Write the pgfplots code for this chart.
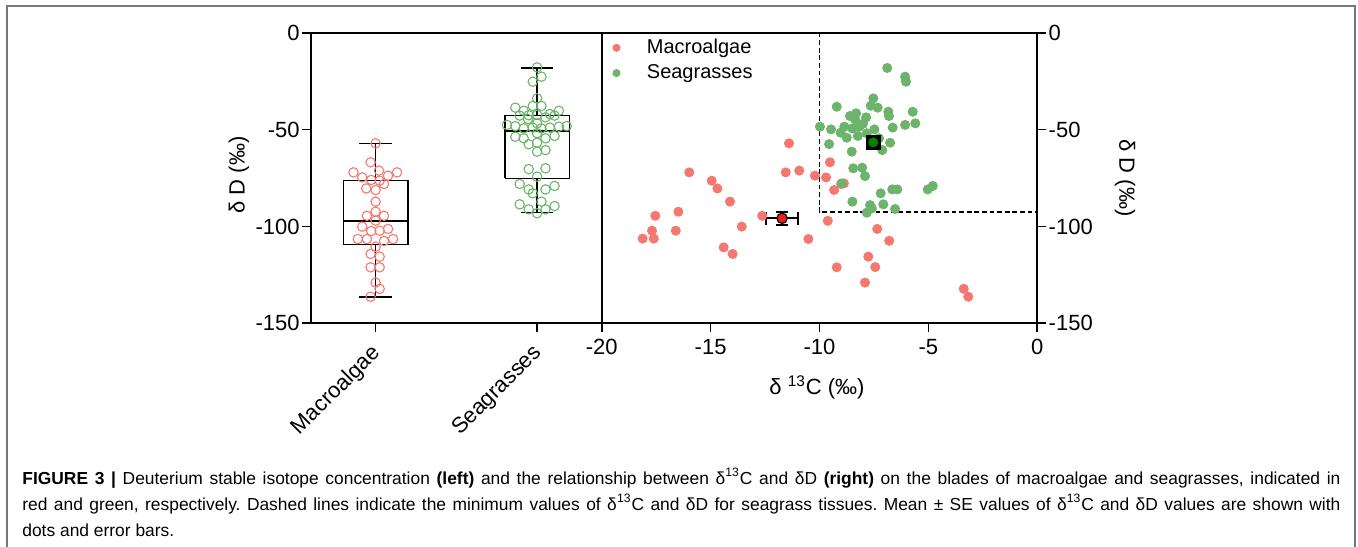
\documentclass[border=0pt]{standalone}
\usepackage{fontspec}
\setmainfont{Liberation Sans}
\usepackage{pgfplots}
\pgfplotsset{compat=1.18}
\definecolor{mred}{RGB}{245,120,112}
\definecolor{sgreen}{RGB}{108,180,108}
\definecolor{meanred}{RGB}{240,30,20}
\definecolor{meangreen}{RGB}{0,130,0}
\definecolor{framegray}{RGB}{120,120,120}
\frenchspacing
\begin{document}
\begin{tikzpicture}
\path[use as bounding box] (0,0) rectangle (679pt,273pt);
\draw[framegray, line width=0.75pt] (3.5pt,-2pt) -- (3.5pt,270pt) -- (677.5pt,270pt) -- (677.5pt,-2pt);
\pgfplotsset{
  common/.style={
    scale only axis,
    height=145.3pt,
    ymin=-150, ymax=0,
    ytick={-150,-100,-50,0},
    axis line style={line width=0.85pt},
    tick style={line width=0.85pt, black},
    major tick length=4.5pt,
    tick align=outside,
    tick label style={font=\fontsize{11}{13}\selectfont},
    /pgf/number format/assume math mode=true,
    clip=false,
  },
  boxline/.style={black, line width=0.75pt, forget plot},
}
% left: box plots
\begin{axis}[common,
  at={(155.5pt,111.35pt)}, anchor=south west,
  width=145.35pt,
  xmin=0.6, xmax=2.4,
  xtick={1,2}, xticklabels={Macroalgae,Seagrasses},
  xtick pos=bottom, ytick pos=left,
  xticklabel style={rotate=45, anchor=north east, inner sep=1pt, xshift=-4.5pt, yshift=-0.5pt},
  yticklabel style={inner sep=1pt},
]
\addplot[only marks, mark=o, mark size=2.35pt, color=mred, mark options={draw=mred, line width=0.55pt}] coordinates {
(1.000,-57.1) (0.969,-66.9) (1.021,-71.2) (0.863,-72.1) (1.133,-72.1)
(0.917,-74.7) (1.077,-73.8) (0.973,-76.0) (1.025,-76.4) (1.052,-78.1)
(0.942,-80.4) (1.000,-81.2) (1.000,-87.2) (0.946,-94.5) (1.000,-92.4)
(1.052,-94.5) (1.000,-97.0) (0.917,-100.1) (0.973,-102.4) (1.025,-102.2)
(1.077,-101.3) (0.890,-106.5) (0.946,-106.5) (1.052,-107.5) (1.108,-106.5)
(1.000,-110.5) (0.969,-114.2) (1.025,-115.6) (0.969,-121.1) (1.025,-121.1)
(1.000,-129.0) (1.025,-132.2) (0.969,-136.3)
};
\addplot[only marks, mark=o, mark size=2.35pt, color=sgreen, mark options={draw=sgreen, line width=0.55pt}] coordinates {
(2.000,-17.9) (1.973,-25.3) (2.027,-22.7) (2.000,-33.9) (1.973,-37.8)
(2.027,-37.8) (1.865,-38.7) (1.917,-40.3) (2.079,-42.0) (2.135,-40.3)
(1.892,-42.8) (1.948,-42.6) (2.052,-43.7) (2.108,-42.8) (2.000,-42.4)
(1.813,-47.6) (1.865,-48.2) (1.917,-49.4) (1.973,-49.0) (2.027,-49.4)
(2.079,-49.0) (2.135,-48.5) (2.183,-48.2) (2.000,-46.8) (1.944,-44.6)
(2.000,-51.9) (1.865,-53.7) (1.917,-54.5) (2.052,-54.5) (2.108,-53.3)
(1.948,-57.6) (2.000,-56.8) (2.000,-61.4) (2.052,-60.6) (1.948,-70.4)
(2.052,-70.0) (2.000,-74.3) (1.892,-78.1) (2.108,-79.1) (1.948,-80.9)
(2.052,-80.9) (1.973,-82.9) (2.027,-87.2) (1.892,-88.6) (2.108,-89.5)
(1.948,-91.2) (2.052,-91.2) (2.000,-93.2)
};
% Macroalgae box: whiskers -136.3/-57.1, quartiles -109.3/-76.4, median -97.2
\addplot[boxline] coordinates {(0.8,-109.3) (1.2,-109.3) (1.2,-76.4) (0.8,-76.4) (0.8,-109.3)};
\addplot[boxline] coordinates {(0.8,-97.2) (1.2,-97.2)};
\addplot[boxline] coordinates {(1,-76.4) (1,-57.1)};
\addplot[boxline] coordinates {(1,-109.3) (1,-136.3)};
\addplot[boxline] coordinates {(0.9,-57.1) (1.1,-57.1)};
\addplot[boxline] coordinates {(0.9,-136.3) (1.1,-136.3)};
% Seagrasses box: whiskers -92.8/-18.3, quartiles -75.2/-42.8, median -50.7
\addplot[boxline] coordinates {(1.8,-75.2) (2.2,-75.2) (2.2,-42.8) (1.8,-42.8) (1.8,-75.2)};
\addplot[boxline] coordinates {(1.8,-50.7) (2.2,-50.7)};
\addplot[boxline] coordinates {(2,-42.8) (2,-18.3)};
\addplot[boxline] coordinates {(2,-75.2) (2,-92.8)};
\addplot[boxline] coordinates {(1.9,-18.3) (2.1,-18.3)};
\addplot[boxline] coordinates {(1.9,-92.8) (2.1,-92.8)};
\end{axis}
% right: scatter
\begin{axis}[common,
  at={(300.85pt,111.35pt)}, anchor=south west,
  width=217.8pt,
  xmin=-20, xmax=0,
  xtick={-20,-15,-10,-5,0},
  xtick pos=bottom, ytick pos=right, yticklabel pos=right,
  yticklabel style={inner sep=1pt},
  legend style={at={(0,1)}, anchor=north west, xshift=0pt, yshift=0pt,
    draw=none, fill=none, font=\fontsize{10}{12}\selectfont,
    row sep=0pt, inner sep=1pt},
  legend cell align=left,
  legend image code/.code={\draw[#1, mark size=1.8pt] plot coordinates {(6pt,0pt)}; \path (0pt,0pt) (19pt,0pt);},
]
\addplot[only marks, mark=*, mark size=2.3pt, color=mred, mark options={draw=mred, fill=mred}] coordinates {
(-11.40,-57.1) (-15.98,-72.1) (-14.95,-76.4) (-14.69,-80.4) (-14.11,-87.2)
(-17.54,-94.5) (-16.48,-92.4) (-17.69,-102.2) (-16.60,-102.2) (-18.12,-106.3)
(-17.61,-106.3) (-14.40,-110.8) (-13.99,-114.2) (-13.57,-100.1) (-12.63,-94.5)
(-11.55,-72.1) (-10.93,-71.2) (-10.21,-73.8) (-9.70,-74.7) (-9.52,-66.9)
(-8.88,-77.8) (-9.01,-78.1) (-9.33,-81.2) (-10.51,-106.5) (-9.62,-97.1)
(-7.35,-101.3) (-6.80,-107.4) (-7.76,-115.6) (-7.44,-121.0) (-9.21,-121.1)
(-7.91,-129.0) (-3.38,-132.2) (-3.17,-136.3)
};
\addlegendentry{Macroalgae}
\addplot[only marks, mark=*, mark size=2.3pt, color=sgreen, mark options={draw=sgreen, fill=sgreen}] coordinates {
(-6.89,-18.2) (-6.07,-22.7) (-6.03,-25.3) (-9.21,-38.2) (-7.53,-33.9)
(-7.65,-37.7) (-7.33,-38.7) (-8.32,-41.6) (-8.37,-44.7) (-7.86,-43.7)
(-6.84,-40.8) (-6.81,-43.0) (-5.72,-40.8) (-5.60,-46.8) (-6.07,-47.6)
(-6.64,-49.0) (-9.98,-48.5) (-9.47,-49.9) (-8.86,-48.5) (-9.03,-51.6)
(-8.49,-49.4) (-8.17,-48.5) (-7.83,-51.9) (-7.48,-49.9) (-8.75,-54.2)
(-8.24,-53.3) (-7.27,-54.5) (-9.56,-57.5) (-6.76,-56.8) (-8.52,-61.4)
(-7.12,-60.6) (-8.45,-70.0) (-8.04,-69.7) (-7.91,-74.0) (-8.98,-77.8)
(-7.19,-82.9) (-6.66,-80.9) (-6.43,-80.9) (-5.03,-80.9) (-4.80,-79.1)
(-8.49,-87.2) (-7.68,-89.0) (-7.60,-90.7) (-7.07,-88.6) (-6.53,-91.0)
(-7.83,-92.9) (-8.00,-47.0) (-8.60,-43.0)
};
\addlegendentry{Seagrasses}
\addplot[black, dash pattern=on 2.4pt off 1.4pt, line width=0.85pt, forget plot] coordinates {(-10,0) (-10,-92.7) (0,-92.7)};
% means with SE
\addplot[only marks, mark=*, mark size=2.6pt, mark options={fill=meanred, draw=black, line width=0.6pt}, forget plot,
  error bars/.cd, x dir=both, x explicit, y dir=both, y explicit,
  error bar style={black, line width=0.8pt},
  error mark options={rotate=90, black, mark size=3.2pt, line width=0.8pt}]
  coordinates {(-11.72,-95.8) +- (0.73,3.4)};
\addplot[only marks, mark=square*, mark size=3.3pt, mark options={fill=black, draw=black}, forget plot] coordinates {(-7.53,-56.6)};
\addplot[only marks, mark=*, mark size=2.3pt, mark options={fill=meangreen, draw=meangreen}, forget plot] coordinates {(-7.53,-56.6)};
\end{axis}
% axis labels
\node[rotate=90, font=\fontsize{11}{13}\selectfont] at (119.5pt,185.5pt) {δ D (‰)};
\node[rotate=-90, font=\fontsize{11}{13}\selectfont] at (562.5pt,184pt) {δ D (‰)};
\node[font=\fontsize{11}{13}\selectfont] at (408.5pt,79.5pt) {δ \textsuperscript{13}C (‰)};
% caption
\node[anchor=base west, inner sep=0pt, font=\fontsize{8.7}{10}\selectfont] at (11pt,31pt)
  {\makebox[659pt][s]{\textbf{FIGURE 3 |} Deuterium stable isotope concentration \textbf{(left)} and the relationship between δ\textsuperscript{13}C and δD \textbf{(right)} on the blades of macroalgae and seagrasses, indicated in}};
\node[anchor=base west, inner sep=0pt, font=\fontsize{8.7}{10}\selectfont] at (11pt,18pt)
  {\makebox[659pt][s]{red and green, respectively. Dashed lines indicate the minimum values of δ\textsuperscript{13}C and δD for seagrass tissues. Mean ± SE values of δ\textsuperscript{13}C and δD values are shown with}};
\node[anchor=base west, inner sep=0pt, font=\fontsize{8.7}{10}\selectfont] at (11pt,5pt)
  {dots and error bars.};
\end{tikzpicture}
\end{document}
